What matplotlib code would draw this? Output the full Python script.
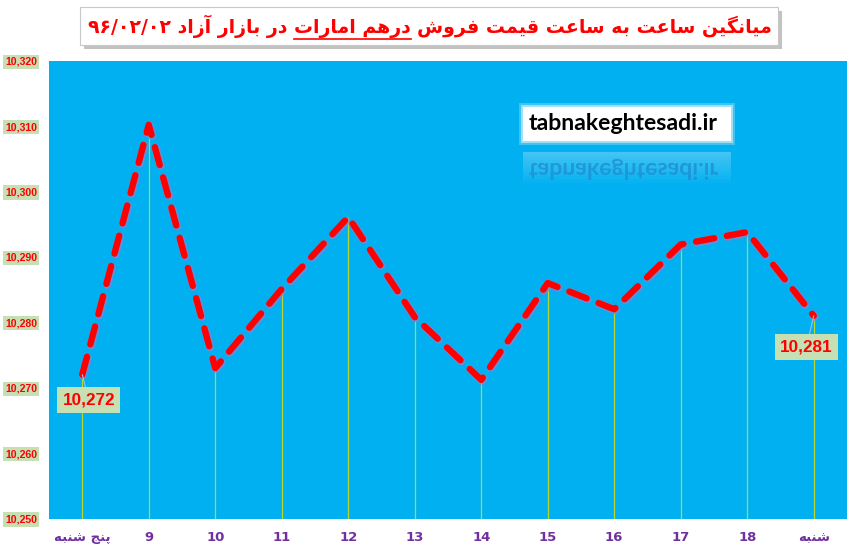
import matplotlib
matplotlib.use('Agg')
import matplotlib.pyplot as plt
import matplotlib.patheffects as pe
from matplotlib.patches import Rectangle, PathPatch
from matplotlib.textpath import TextPath
from matplotlib.font_manager import FontProperties
from matplotlib.transforms import Affine2D

# data
hours = ['پنج شنبه', '9', '10', '11', '12', '13', '14', '15', '16', '17', '18', 'شنبه']
prices = [10272, 10310.2, 10273, 10285.1, 10296.1, 10280.8, 10271.2, 10286, 10282, 10291.9, 10293.8, 10281]
yticks = [10250, 10260, 10270, 10280, 10290, 10300, 10310, 10320]
title_a = 'میانگین ساعت به ساعت قیمت فروش'
title_b = 'درهم امارات'
title_c = 'در بازار آزاد ۹۶/۰۲/۰۲'
site = 'tabnakeghtesadi.ir'

# arabic presentation forms: isolated, final, initial, medial
FORMS = {
    'ا': ('\uFE8D', '\uFE8E', None, None),
    'آ': ('\uFE81', '\uFE82', None, None),
    'ب': ('\uFE8F', '\uFE90', '\uFE91', '\uFE92'),
    'پ': ('\uFB56', '\uFB57', '\uFB58', '\uFB59'),
    'ت': ('\uFE95', '\uFE96', '\uFE97', '\uFE98'),
    'ج': ('\uFE9D', '\uFE9E', '\uFE9F', '\uFEA0'),
    'د': ('\uFEA9', '\uFEAA', None, None),
    'ر': ('\uFEAD', '\uFEAE', None, None),
    'ز': ('\uFEAF', '\uFEB0', None, None),
    'س': ('\uFEB1', '\uFEB2', '\uFEB3', '\uFEB4'),
    'ش': ('\uFEB5', '\uFEB6', '\uFEB7', '\uFEB8'),
    'ع': ('\uFEC9', '\uFECA', '\uFECB', '\uFECC'),
    'ف': ('\uFED1', '\uFED2', '\uFED3', '\uFED4'),
    'ق': ('\uFED5', '\uFED6', '\uFED7', '\uFED8'),
    'م': ('\uFEE1', '\uFEE2', '\uFEE3', '\uFEE4'),
    'ن': ('\uFEE5', '\uFEE6', '\uFEE7', '\uFEE8'),
    'ه': ('\uFEE9', '\uFEEA', '\uFEEB', '\uFEEC'),
    'و': ('\uFEED', '\uFEEE', None, None),
    'ی': ('\uFBFC', '\uFBFD', '\uFBFE', '\uFBFF'),
    'گ': ('\uFB92', '\uFB93', '\uFB94', '\uFB95'),
}


def shape(word):
    out = []
    for i, c in enumerate(word):
        if c not in FORMS:
            out.append(c)
            continue
        prev = word[i - 1] if i > 0 else None
        nxt = word[i + 1] if i + 1 < len(word) else None
        jp = prev in FORMS and FORMS[prev][2] is not None
        jn = nxt in FORMS and FORMS[c][2] is not None
        iso, fin, ini, med = FORMS[c]
        if jp and jn:
            out.append(med)
        elif jp:
            out.append(fin)
        elif jn:
            out.append(ini)
        else:
            out.append(iso)
    return ''.join(out)


def rtl(text):
    vis = []
    for w in text.split(' '):
        if any(ch in FORMS for ch in w):
            vis.append(shape(w)[::-1])
        else:
            vis.append(w)
    return ' '.join(vis[::-1])


W, H = 857, 556
def fx(px):
    return px / W
def fy(py):
    return 1 - py / H

fig = plt.figure(figsize=(8.57, 5.56), dpi=100)
ax = fig.add_axes([fx(49), fy(518.5), fx(847) - fx(49), fy(60.7) - fy(518.5)])
ax.set_facecolor('#00B0F0')
for s in ax.spines.values():
    s.set_visible(False)

x = list(range(len(hours)))
ax.vlines(x, 10250, prices, color='#B7D631', lw=0.9, zorder=2)
ax.plot(x, prices, color='#FF0000', lw=4.6, ls=(0, (2.9, 2.0)),
        solid_capstyle='round', dash_capstyle='round', zorder=4,
        path_effects=[pe.Stroke(linewidth=6.2, foreground='#7b86d6', alpha=0.75, offset=(0.6, -0.6)),
                      pe.Normal()])

ax.set_xlim(-0.5, len(hours) - 0.5)
ax.set_ylim(10250, 10320)
ax.set_yticks(yticks)
ax.set_yticklabels([f'{v:,}' for v in yticks])
ax.set_xticks(x)
ax.set_xticklabels([rtl(h) for h in hours])
ax.tick_params(axis='y', length=0, pad=8.5, labelsize=7.6, labelcolor='#FF0000')
ax.tick_params(axis='x', length=0, pad=9, labelsize=9.5, labelcolor='#7030A0')
for lab in ax.get_yticklabels():
    lab.set_fontweight('bold')
    lab.set_family(['Liberation Sans', 'DejaVu Sans'])
    lab.set_bbox(dict(facecolor='#C6E0B4', edgecolor='none', pad=1.5))
for lab in ax.get_xticklabels():
    lab.set_fontweight('bold')
    lab.set_family(['DejaVu Sans'])

# data labels for first and last point
for i, dx, dy in [(0, 0.1, -3.9), (len(hours) - 1, -0.11, -4.8)]:
    ax.annotate(f'{round(prices[i]):,}', xy=(x[i], prices[i]), xytext=(x[i] + dx, prices[i] + dy),
                ha='center', va='center', fontsize=12.3, fontweight='bold', color='#FF0000',
                family=['Liberation Sans', 'DejaVu Sans'],
                bbox=dict(facecolor='#C6E0B4', edgecolor='none', pad=3.8),
                arrowprops=dict(arrowstyle='-', color='#9DC3E6', lw=0.8, shrinkA=0, shrinkB=0),
                zorder=6)

# title box with shadow
fig.patches.append(Rectangle((fx(84), fy(49)), fx(782) - fx(84), fy(11) - fy(49),
                             transform=fig.transFigure, facecolor='#9a9a9a', edgecolor='none', alpha=0.6))
fig.patches.append(Rectangle((fx(80), fy(45)), fx(778) - fx(80), fy(7) - fy(45),
                             transform=fig.transFigure, facecolor='white', edgecolor='#c8c8c8', lw=0.8))

fig.canvas.draw()
rend = fig.canvas.get_renderer()
tkw = dict(fontsize=13.6, fontweight='bold', color='#FF0000', va='baseline', ha='left',
           family=['DejaVu Sans'])
parts = [rtl(title_c), rtl(title_b), rtl(title_a)]
texts = [fig.text(0, fy(33), p, **tkw) for p in parts]
widths = [t.get_window_extent(rend).width for t in texts]
gap = 6
total = sum(widths) + gap * 2
cur = 430 - total / 2
for t, w in zip(texts, widths):
    t.set_x(fx(cur))
    cur += w + gap
ux0 = texts[1].get_position()[0]
fig.add_artist(plt.Line2D([ux0, ux0 + fx(widths[1])], [fy(38.5), fy(38.5)],
                          transform=fig.transFigure, color='#FF0000', lw=1.2))

# watermark box and reflection
for k, a in [(4, 0.25), (2, 0.5)]:
    fig.patches.append(Rectangle((fx(523 - k), fy(141 + k)), fx(731 + k) - fx(523 - k), fy(107 - k) - fy(141 + k),
                                 transform=fig.transFigure, facecolor='white', edgecolor='none', alpha=a))
fig.patches.append(Rectangle((fx(523), fy(141)), fx(731) - fx(523), fy(107) - fy(141),
                             transform=fig.transFigure, facecolor='white', edgecolor='none'))
fig.text(fx(529), fy(124), site, fontsize=16.6, fontweight='bold', color='black',
         va='center', ha='left', family=['Lato', 'DejaVu Sans'])
nb = 12
for k in range(nb):
    y0 = 152 + k * 2.7
    fig.patches.append(Rectangle((fx(523), fy(y0 + 2.7)), fx(731) - fx(523), fy(y0) - fy(y0 + 2.7),
                                 transform=fig.transFigure, facecolor='#6fd3f7', edgecolor='none',
                                 alpha=0.6 * (1 - k / nb)))
tp = TextPath((0, 0), site, size=23, prop=FontProperties(family='Lato', weight='bold'))
tr = Affine2D().scale(1, -1).translate(529, H - 163)
fig.patches.append(PathPatch(tp, transform=tr, facecolor='#1f8fd2', edgecolor='none', alpha=0.8))

fig.savefig('out.png', dpi=100)
